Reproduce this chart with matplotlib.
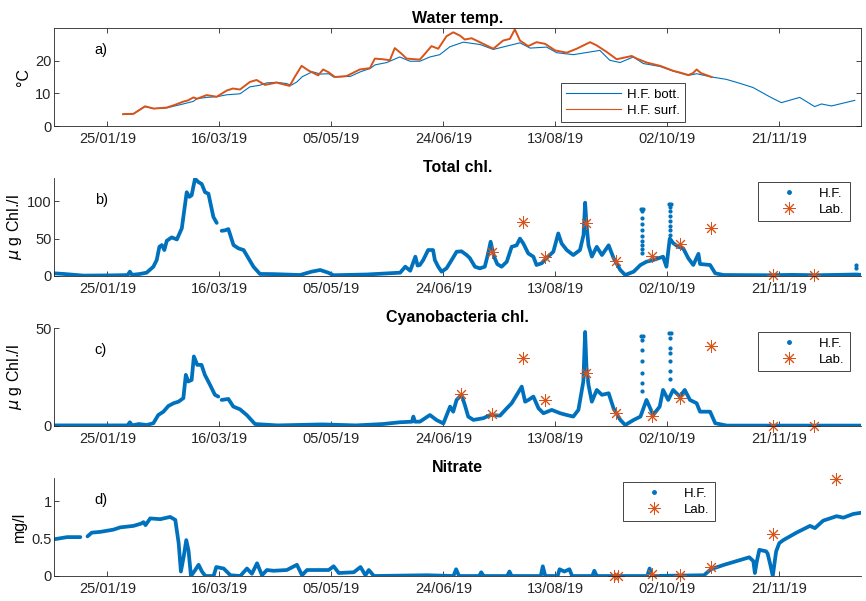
import numpy as np
import pandas as pd
import matplotlib
matplotlib.use("Agg")
import matplotlib.pyplot as plt
from matplotlib.lines import Line2D

plt.rcParams['font.family'] = ['Liberation Sans', 'DejaVu Sans']

# days counted from 01/01/2019
temp_bott_days = [31, 35.6, 40.8, 44.6, 50.4, 57.8, 62.4, 64, 68.3, 72.8, 77.3, 83.2, 87.6, 92.1, 95, 99.5,
                  104, 106, 108.6, 111, 115.5, 119.2, 122.8, 125, 132.5, 137, 141.3, 143.5, 148.7, 154.5,
                  159.1, 163.5, 168, 172.4, 176.9, 182.9, 190.3, 196.3, 208.2, 212.7, 220.1, 224.6, 232,
                  243.9, 248.3, 252.9, 258.8, 263.3, 270.8, 276.6, 283.4, 287.1, 293.8, 300.3, 306.3,
                  312.3, 319.7, 324.9, 333.1, 339.8, 342.8, 347.3, 357.7]
temp_bott = [3.7, 3.8, 6.0, 5.4, 5.6, 6.8, 7.6, 8.4, 8.8, 9.0, 9.6, 9.9, 12.0, 12.5, 13.2, 13.4,
             13.0, 12.5, 13.5, 15.1, 16.6, 15.9, 16.0, 15.0, 15.2, 16.6, 17.6, 18.7, 19.4, 21.1,
             19.8, 19.8, 21.1, 21.8, 24.2, 25.6, 24.9, 23.4, 25.4, 23.8, 24.1, 22.4, 21.8,
             23.1, 20.1, 19.4, 21.1, 19.1, 18.2, 16.8, 15.5, 16.0, 15.0, 14.3, 13.1,
             11.8, 9.0, 7.2, 8.8, 6.0, 6.8, 6.2, 7.9]

temp_surf_days = [31, 35.6, 40.8, 44.6, 50.4, 54, 57.8, 60, 62.4, 64, 68.3, 72.8, 77.3, 80, 83.2, 87.6,
                  90.6, 94.3, 99.5, 105.4, 107.7, 110.7, 113.7, 118.1, 120.3, 122.6, 125.6, 130.8,
                  136.7, 141.2, 143.4, 147.1, 150.1, 152.3, 155.3, 157.6, 163.5, 165.8, 168.7, 171.7,
                  175.4, 178.4, 181.4, 183.6, 186.6, 190.3, 196.3, 200.7, 203.7, 205.9, 208.2, 211.9,
                  215.6, 219.4, 223.9, 229.1, 233.5, 239.5, 242.5, 247, 251.4, 258.1, 260.4, 264.8,
                  270.8, 276.6, 280, 283.4, 285.5, 287.1, 289, 293.8]
temp_surf = [3.7, 3.8, 6.1, 5.4, 5.7, 6.5, 7.5, 7.9, 8.8, 8.4, 9.5, 9.0, 10.9, 11.5, 11.2, 13.5,
             14.1, 12.6, 13.3, 12.3, 15.1, 18.4, 17.0, 15.5, 17.3, 16.5, 15.0, 15.3,
             17.3, 17.7, 20.6, 20.4, 20.1, 23.8, 22.1, 20.6, 20.3, 22.1, 24.4, 23.6,
             27.4, 28.6, 27.6, 26.4, 26.8, 25.6, 23.6, 26.1, 26.6, 29.5, 26.1, 24.4,
             25.6, 25.1, 23.1, 22.4, 23.6, 25.6, 24.6, 22.6, 20.4, 21.4, 20.6, 19.4,
             18.4, 16.9, 16.3, 15.6, 16.2, 17.3, 16.2, 15.0]

tchl_days = [0, 4.5, 13.3, 25, 33, 34, 35, 38.5, 41.5, 44.5, 46, 47.2, 48.3, 49.4, 50.5, 52.7, 55,
             57.2, 59.4, 60.6, 61.6, 63.1, 64.6, 66.1, 67.6, 69.1, 71.3, 72.8, 73.9, 75, 76.5, 78,
             80.3, 82.5, 84.8, 89.2, 92.1, 98.1, 110, 115.2, 119, 122.6, 125, 139.8, 154.7, 157,
             159.2, 161.5, 162.5, 163.5, 165, 167.2, 169.4, 170.2, 171.7, 173.2, 175.4, 177.7,
             179.9, 182.1, 184.4, 185.8, 188.1, 190.3, 192.5, 194, 195.1, 196.6, 198.1, 200, 202.3,
             204.5, 206.7, 208.2, 209.7, 211.9, 214.2, 215.6, 217.9, 220.1, 223.1, 225.3, 226.8,
             229.1, 232, 235, 236.6, 237.3, 237.9, 238.8, 240.3, 242.5, 244.8, 247.8, 250, 253,
             255.2, 259, 262, 264.7, 267.7, 272.1, 273.6, 275.1, 276.6, 278.9, 281.1, 283.4, 285.6,
             287.9, 288.6, 293.1, 295.4, 299.1, 318.4, 330, 340, 350, 358.5, 361.5]
tchl = [3.6, 2.7, 0.5, 0.8, 1.2, 5.8, 1.5, 2.7, 4.4, 12.4, 21.3, 39.1, 41.3, 34.7, 47.1, 51.6, 48.9,
        63.6, 112, 105.8, 108, 130, 125.6, 123, 112, 110, 79, 71, np.nan, 60.4, 61, 62.7,
        41.3, 36.9, 34.7, 12.4, 2.7, 2.5, 1.3, 5.8, 8, 4.4, 1.0, 2.0, 4.4, 12.4,
        7, 25.8, 14, 14.7, 21.3, 34.7, 34.7, 21.3, 12.4, 5.8, 10.2, 21.3,
        32.4, 33, 28, 24, 12.4, 10.2, 12.4, 30.2, 45.8, 26, 15.8, 12.4, 19,
        39, 41, 50, 43.5, 30.2, 25.8, 14.7, 17, 24, 32.4, 56.9, 43.5,
        34.7, 28, 34.7, 55, 98, 70, 41, 26, 39, 28, 41, 24, 8,
        1.3, 5.8, 14.7, 19.1, 21.3, 25.8, 12.4, 50, 44, 39, 36.9, 23.6, 14.7,
        29.6, 16, 14.7, 3.6, 1.3, 1.0, 1.5, 1.0, 1.5, 2, 1.3]
tchl_dot_days = [262.3, 263.1, 262.6, 262.7, 262.8, 262.7, 262.6, 262.8, 262.9, 262.7, 262.8,
                 274.6, 275.6, 275.0, 275.1, 275.2, 275.1, 275.0, 275.2, 275.3, 275.1, 358.3, 358.4]
tchl_dot = [90, 90, 87.5, 78, 70, 61, 54, 47, 42, 36, 31,
            96, 96, 92, 87, 80, 73, 67, 61, 55, 48, 14.7, 11]
tchl_lab_days = [195.8, 209.5, 219.6, 237.5, 251.2, 267.2, 279.5, 293.6, 321.1, 339.3]
tchl_lab = [31.6, 72.4, 25.8, 70.2, 20.4, 26.7, 42.7, 64.4, 1.3, 1.3]

cyan_days = [0, 33, 34, 35, 38, 41.5, 44.5, 46.7, 49, 51.2, 53.5, 55.7, 57.9, 59, 60.1, 61.6, 62.6,
             64.1, 66, 67.5, 69.8, 72, 73.5, 74.2, 75, 78, 80.2, 83.2, 86.2, 89.9, 100, 120, 135,
             147, 154.6, 160, 160.6, 161.3, 163.5, 168, 171, 174, 177, 178.4, 179.9, 182.1, 183.6,
             185.1, 187.4, 191.9, 194.9, 199.3, 202.3, 204.5, 206.8, 209, 210.5, 212, 214.2, 216.5,
             218.7, 222.4, 226.2, 229.1, 232, 234.3, 236.5, 237.3, 237.9, 238.8, 240.3, 242.5,
             244.8, 247.8, 250, 253, 255.2, 259, 262, 264.7, 267.7, 270.6, 272.1, 274.4, 276.6,
             279.6, 281.8, 284.1, 287.1, 288.6, 293.1, 295.4, 300.6, 361.5]
cyan = [0.3, 0.3, 1.9, 0.3, 1.0, 0.5, 1.4, 5.6, 7.3, 10.2, 11.6, 12.4, 14.2, 26.1, 22.7, 23.5, 35.5,
        31.2, 31.2, 26.1, 21, 15.9, 15.0, np.nan, 13.3, 13.8, 9.9, 8.5, 5.6, 1.0, 0.3, 0.8, 0.3,
        1.0, 1.9, 2.2, 4.8, 2.2, 2.2, 5.6, 3.0, 1.3, 9.9, 7.3, 13.3, 15.9, 10.7,
        4.8, 3.1, 4.0, 5.6, 5.3, 9.0, 11.6, 15.9, 20.1, 12.4, 13.3, 15.0, 9.0,
        6.5, 8.2, 6.5, 5.6, 4.8, 8.2, 22.7, 48, 30, 21, 12.4, 18.4,
        15.9, 16.7, 9.0, 3.1, 0.5, 3.1, 4.8, 13.3, 5.6, 9.9, 18.4, 13.3, 18.4,
        15.0, 18.4, 13.3, 11.6, 7.3, 7.3, 1.4, 0.2, 0.2]
cyan_dot_days = [262.3, 263.1, 262.7, 262.8, 262.6, 262.7, 262.8, 262.7,
                 274.6, 275.6, 275.0, 275.1, 275.2, 275.0, 275.1, 275.2]
cyan_dot = [45.7, 45.7, 44, 38.9, 33, 27, 22, 18,
            47.4, 47.4, 45, 40, 37, 33, 28, 24]
cyan_lab_days = [182, 195.8, 209.5, 219.6, 237.5, 251.2, 267.2, 279.5, 293.6, 321.1, 339.3]
cyan_lab = [16.2, 6.1, 34.6, 13.3, 27.0, 6.5, 5.3, 14.2, 40.9, 0.2, 0.2]

nit_days = [0, 6, 11.9, 13.5, 15.1, 17, 20.8, 26.7, 29.7, 35.6, 39, 40.1, 41, 43.1, 47.6, 52, 54.3,
            55.8, 56.8, 58, 59.2, 60.2, 61.3, 63.2, 64.7, 66.2, 67.7, 71.4, 72.6, 75.9, 78.9, 83.3,
            86.3, 88.5, 90.8, 93, 95.2, 98.2, 104.1, 108.6, 110.9, 113.1, 122.8, 125, 127.3, 134,
            137, 139.2, 140.7, 143, 166.7, 178.5, 179.7, 181, 190, 190.9, 192, 202.5, 203.5, 204.5,
            217.5, 218.4, 219.5, 225, 225.9, 228, 230.3, 231.5, 240.5, 241.4, 242.5, 265, 266.1,
            267.2, 290.4, 293.4, 299.4, 303.9, 310.6, 312.4, 313.1, 314, 315.1, 318.1, 318.8, 320,
            321.1, 322, 322.6, 324, 325.8, 331.7, 337.7, 339.9, 343.6, 349.6, 352.6, 357.1, 361.5]
nit = [0.49, 0.52, 0.52, np.nan, 0.53, 0.58, 0.59, 0.62, 0.65, 0.67, 0.70, 0.72, 0.68, 0.77, 0.76, 0.79, 0.75,
       0.44, 0.06, 0.25, 0.48, 0.34, 0.0, 0.08, 0.15, 0.06, 0.0, 0.0, 0.12, 0.10, 0.01, 0.0,
       0.10, 0.03, 0.17, 0.01, 0.08, 0.07, 0.08, 0.15, 0.01, 0.08, 0.08, 0.13, 0.04, 0.05,
       0.12, 0.01, 0.08, 0.0, 0.01, 0.0, 0.09, 0.0, 0.0, 0.05, 0.0, 0.0, 0.06, 0.0,
       0.0, 0.13, 0.0, 0.0, 0.09, 0.06, 0.09, 0.0, 0.0, 0.07, 0.0, 0.0, 0.1,
       0.0, 0.01, 0.09, 0.15, 0.19, 0.25, 0.2, 0.04, 0.2, 0.35, 0.33, 0.3, 0.15,
       0.0, 0.2, 0.33, 0.44, 0.48, 0.58, 0.67, 0.64, 0.74, 0.80, 0.78, 0.83, 0.85]
nit_lab_days = [250.4, 252.2, 267.2, 279.5, 293.6, 321.1, 349.4]
nit_lab = [0.0, 0.0, 0.03, 0.01, 0.12, 0.56, 1.30]

t0 = pd.Timestamp('2019-01-01')


def to_dates(days):
    return t0 + pd.to_timedelta(np.asarray(days, dtype=float), unit='D')


blue = '#0072BD'
orange = '#D95319'
grey = '#262626'
tick_dates = pd.date_range('2019-01-25', periods=7, freq='50D')
star = (8, 2, 0)

fig = plt.figure(figsize=(8.66, 6.01), dpi=100)
bottoms = [0.7898, 0.5408, 0.2912, 0.0416]
label_x = [-0.028, -0.037, -0.037, -0.033]
axes = [fig.add_axes([0.062, b, 0.932, 0.163]) for b in bottoms]

for i, ax in enumerate(axes):
    ax.set_xlim(t0, t0 + pd.Timedelta(days=360.4))
    ax.set_xticks(tick_dates)
    ax.set_xticklabels([d.strftime('%d/%m/%y') for d in tick_dates])
    ax.tick_params(direction='in', length=3.5, width=0.6, colors=grey, labelsize=10.5)
    ax.tick_params(axis='x', pad=4)
    ax.tick_params(axis='y', pad=1.5)
    for s in ax.spines.values():
        s.set_color(grey)
        s.set_linewidth(0.6)
    if i > 0:
        ax.spines['top'].set_visible(False)
        ax.spines['right'].set_visible(False)
    ax.text(0.051, 0.776, 'abcd'[i] + ')', transform=ax.transAxes, fontsize=10.5, va='center')
    ax.yaxis.set_label_coords(label_x[i], 0.5)

# a) water temperature
ax = axes[0]
ax.plot(to_dates(temp_bott_days), temp_bott, color=blue, lw=0.8, label='H.F. bott.')
ax.plot(to_dates(temp_surf_days), temp_surf, color=orange, lw=1.4, label='H.F. surf.')
ax.set_ylim(0, 29.8)
ax.set_yticks([0, 10, 20])
ax.tick_params(top=True, right=True)
ax.set_ylabel('°C', fontsize=11.5)
ax.set_title('Water temp.', fontsize=11.5, fontweight='bold', pad=4)
leg = ax.legend(loc='lower left', bbox_to_anchor=(0.628, 0.044), fontsize=9.5, fancybox=False,
                edgecolor=grey, framealpha=1, handlelength=4.2, handletextpad=0.4,
                borderpad=0.4, labelspacing=0.3, borderaxespad=0)
leg.get_frame().set_linewidth(0.6)
leg.get_lines()[1].set_linewidth(0.8)

hf_handle = Line2D([], [], ls='none', marker='.', color=blue, markersize=5)
lab_handle = Line2D([], [], ls='none', marker=star, color=orange, markersize=9, mew=0.7)

panels = [
    (axes[1], tchl_days, tchl, tchl_dot_days, tchl_dot, tchl_lab_days, tchl_lab,
     (0, 131), [0, 50, 100], ['0', '50', '100'], '$\\mu$ g Chl./l', 'Total chl.', (0.986, 0.959)),
    (axes[2], cyan_days, cyan, cyan_dot_days, cyan_dot, cyan_lab_days, cyan_lab,
     (0, 50), [0, 50], ['0', '50'], '$\\mu$ g Chl./l', 'Cyanobacteria chl.', (0.986, 0.959)),
    (axes[3], nit_days, nit, [], [], nit_lab_days, nit_lab,
     (0, 1.31), [0, 0.5, 1], ['0', '0.5', '1'], 'mg/l', 'Nitrate', (0.819, 0.959)),
]

for ax, d, v, dd, dv, ld, lv, ylim, yt, ytl, ylab, title, anchor in panels:
    ax.plot(to_dates(d), v, color=blue, lw=2.7, solid_capstyle='round')
    if dd:
        ax.plot(to_dates(dd), dv, ls='none', marker='.', color=blue, markersize=4)
    ax.plot(to_dates(ld), lv, ls='none', marker=star, color=orange, markersize=9, mew=0.7,
            clip_on=False)
    ax.set_ylim(*ylim)
    ax.set_yticks(yt)
    ax.set_yticklabels(ytl)
    ax.set_ylabel(ylab, fontsize=11.5)
    ax.set_title(title, fontsize=11.5, fontweight='bold', pad=4)
    leg = ax.legend([hf_handle, lab_handle], ['H.F.', 'Lab.'], loc='upper right',
                    bbox_to_anchor=anchor, fontsize=9.5, fancybox=False, edgecolor=grey,
                    framealpha=1, handlelength=3.9, handletextpad=0.3, borderpad=0.4,
                    labelspacing=0.3, borderaxespad=0)
    leg.get_frame().set_linewidth(0.6)

fig.savefig('out.png', dpi=100)
